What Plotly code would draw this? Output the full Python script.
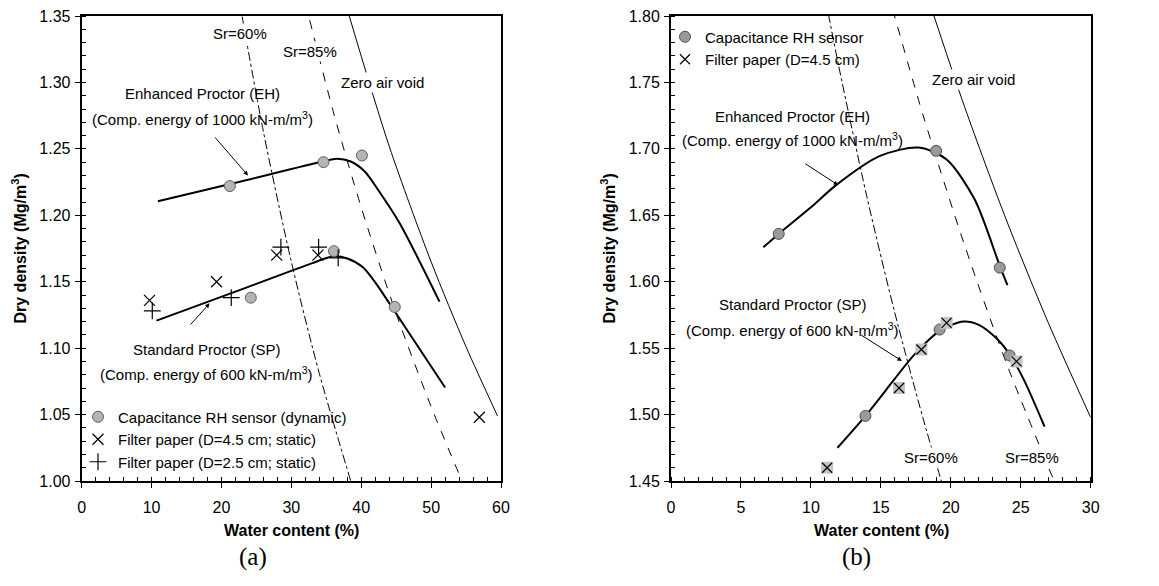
import plotly.graph_objects as go

# ---------------- Panel (a) ----------------
# measured points
a_cap_w = [21.2, 34.6, 40.1, 24.2, 36.1, 44.8]
a_cap_rho = [1.222, 1.240, 1.245, 1.138, 1.173, 1.131]
a_fp45_w = [9.7, 19.3, 27.9, 33.8, 56.9]
a_fp45_rho = [1.136, 1.150, 1.170, 1.170, 1.048]
a_fp25_w = [10.1, 21.4, 28.5, 33.9, 36.7]
a_fp25_rho = [1.128, 1.138, 1.176, 1.176, 1.168]

# compaction curves
a_eh_w = [10.9, 22.0, 34.5, 36.5, 38.5, 40.5, 42.5, 45.5, 51.2]
a_eh_rho = [1.2105, 1.2245, 1.2405, 1.2425, 1.2405, 1.2330, 1.2185, 1.1940, 1.1350]
a_sp_w = [10.7, 22.0, 33.0, 35.9, 38.0, 40.2, 42.0, 44.5, 52.0]
a_sp_rho = [1.1207, 1.1425, 1.1640, 1.1690, 1.1675, 1.1610, 1.1495, 1.1300, 1.0704]

# saturation lines
a_sr60_w = [22.5, 26.0, 30.0, 34.0, 38.5]
a_sr60_rho = [1.363, 1.263, 1.165, 1.081, 1.000]
a_sr85_w = [32.0, 36.0, 40.0, 45.0, 50.0, 54.5]
a_sr85_rho = [1.360, 1.278, 1.206, 1.126, 1.056, 0.999]
a_zav_w = [38.0, 44.0, 50.0, 55.0, 59.5]
a_zav_rho = [1.355, 1.252, 1.165, 1.101, 1.049]

# ---------------- Panel (b) ----------------
b_cap_w = [7.7, 18.95, 23.5, 13.9, 19.2, 24.2]
b_cap_rho = [1.636, 1.6985, 1.6106, 1.499, 1.564, 1.5445]
b_fp_w = [11.16, 16.3, 17.9, 19.7, 24.7]
b_fp_rho = [1.460, 1.520, 1.549, 1.569, 1.540]

b_eh_w = [6.6, 7.7, 10.0, 11.8, 14.9, 17.7, 19.7, 21.7, 23.5, 24.05]
b_eh_rho = [1.626, 1.636, 1.656, 1.6727, 1.6945, 1.701, 1.692, 1.662, 1.612, 1.5975]
b_sp_w = [11.9, 13.9, 16.0, 17.3, 19.2, 20.9, 22.0, 23.3, 24.2, 25.2, 26.7]
b_sp_rho = [1.475, 1.499, 1.527, 1.544, 1.563, 1.570, 1.5675, 1.557, 1.5455, 1.5267, 1.491]

b_sr60_w = [11.0, 12.0, 14.0, 16.0, 18.0, 19.5]
b_sr60_rho = [1.815, 1.7617, 1.664, 1.5765, 1.4978, 1.4437]
b_sr85_w = [15.5, 18.0, 21.0, 24.0, 27.5]
b_sr85_rho = [1.818, 1.726, 1.627, 1.538, 1.447]
b_zav_w = [18.5, 21.0, 24.0, 27.0, 30.0]
b_zav_rho = [1.8095, 1.7312, 1.6457, 1.5683, 1.4978]

FONT = "Liberation Sans, Arial, sans-serif"
FW, FH = 1159, 586


def fx(p):
    """pixel from the left edge -> paper x"""
    return p / FW


def fy(p):
    """pixel from the top edge -> paper y"""
    return 1 - p / FH


fig = go.Figure()


def line(x, y, xa, ya, dash="solid", width=1.0):
    fig.add_trace(go.Scatter(x=x, y=y, mode="lines", xaxis=xa, yaxis=ya,
                             line=dict(color="black", width=width, dash=dash,
                                       shape="spline", smoothing=0.8),
                             showlegend=False, hoverinfo="skip"))


# panel (a) lines
line(a_sr60_w, a_sr60_rho, "x", "y", dash="dashdot")
line(a_sr85_w, a_sr85_rho, "x", "y", dash="dash")
line(a_zav_w, a_zav_rho, "x", "y")
line(a_eh_w, a_eh_rho, "x", "y", width=2)
line(a_sp_w, a_sp_rho, "x", "y", width=2)

# panel (b) lines
line(b_sr60_w, b_sr60_rho, "x2", "y2", dash="dashdot")
line(b_sr85_w, b_sr85_rho, "x2", "y2", dash="dash")
line(b_zav_w, b_zav_rho, "x2", "y2")
line(b_eh_w, b_eh_rho, "x2", "y2", width=2)
line(b_sp_w, b_sp_rho, "x2", "y2", width=2)

# panel (a) markers
fig.add_trace(go.Scatter(x=a_cap_w, y=a_cap_rho, mode="markers", xaxis="x", yaxis="y",
                         name="Capacitance RH sensor (dynamic)", legend="legend",
                         marker=dict(symbol="circle", size=11, color="#b4b4b4",
                                     line=dict(color="#606060", width=1))))
fig.add_trace(go.Scatter(x=a_fp45_w, y=a_fp45_rho, mode="markers", xaxis="x", yaxis="y",
                         name="Filter paper (D=4.5 cm; static)", legend="legend",
                         marker=dict(symbol="x-thin", size=11,
                                     line=dict(color="black", width=1.2))))
fig.add_trace(go.Scatter(x=a_fp25_w, y=a_fp25_rho, mode="markers", xaxis="x", yaxis="y",
                         name="Filter paper (D=2.5 cm; static)", legend="legend",
                         marker=dict(symbol="cross-thin", size=12,
                                     line=dict(color="black", width=1.2))))

# panel (b) markers
fig.add_trace(go.Scatter(x=b_cap_w, y=b_cap_rho, mode="markers", xaxis="x2", yaxis="y2",
                         name="Capacitance RH sensor", legend="legend2",
                         marker=dict(symbol="circle", size=11, color="#9a9a9a",
                                     line=dict(color="#505050", width=1))))
fig.add_trace(go.Scatter(x=b_fp_w, y=b_fp_rho, mode="markers", xaxis="x2", yaxis="y2",
                         name="Filter paper (D=4.5 cm)", legend="legend2",
                         legendgroup="fp", showlegend=False,
                         marker=dict(symbol="square", size=12, color="#c4c4c4",
                                     line=dict(width=0))))
fig.add_trace(go.Scatter(x=b_fp_w, y=b_fp_rho, mode="markers", xaxis="x2", yaxis="y2",
                         name="Filter paper (D=4.5 cm)", legend="legend2",
                         legendgroup="fp",
                         marker=dict(symbol="x-thin", size=10,
                                     line=dict(color="black", width=1.2))))

# axes
xdom_a = [fx(81.7), fx(501.0)]
xdom_b = [fx(671.0), fx(1090.7)]
ydom = [fy(481.0), fy(16.0)]

tickfont = dict(family=FONT, size=16, color="black")
common = dict(showline=True, linewidth=2, linecolor="black", mirror=True,
              showgrid=False, zeroline=False, ticks="outside", ticklen=5,
              tickwidth=1, tickcolor="black", tickfont=tickfont, automargin=False)
xcommon = dict(ticklabelstandoff=6, **common)
ycommon = dict(ticklabelstandoff=1, **common)
minor_style = dict(ticks="inside", ticklen=4, tickcolor="black", tickwidth=1)

# overlay axes carrying the inner half of the major ticks
inner = dict(showline=False, showgrid=False, zeroline=False, ticks="inside", ticklen=5,
             tickwidth=1, tickcolor="black", showticklabels=False, automargin=False)

fig.update_layout(
    xaxis=dict(domain=xdom_a, range=[0, 60], dtick=10, anchor="y",
               minor=dict(dtick=2, **minor_style), **xcommon),
    yaxis=dict(domain=ydom, range=[1.00, 1.35], dtick=0.05, tickformat=".2f", anchor="x",
               minor=dict(dtick=0.01, **minor_style), **ycommon),
    xaxis2=dict(domain=xdom_b, range=[0, 30], dtick=5, anchor="y2",
                minor=dict(dtick=1, **minor_style), **xcommon),
    yaxis2=dict(domain=ydom, range=[1.45, 1.80], dtick=0.05, tickformat=".2f", anchor="x2",
                minor=dict(dtick=0.01, **minor_style), **ycommon),
    xaxis3=dict(domain=xdom_a, range=[0, 60], dtick=10, anchor="y", overlaying="x", **inner),
    yaxis3=dict(domain=ydom, range=[1.00, 1.35], dtick=0.05, anchor="x", overlaying="y", **inner),
    xaxis4=dict(domain=xdom_b, range=[0, 30], dtick=5, anchor="y2", overlaying="x2", **inner),
    yaxis4=dict(domain=ydom, range=[1.45, 1.80], dtick=0.05, anchor="x2", overlaying="y2", **inner),
)

# legends
legfont = dict(family=FONT, size=15, color="black")
fig.update_layout(
    legend=dict(x=fx(78), y=fy(400.5), xanchor="left", yanchor="top",
                bgcolor="rgba(0,0,0,0)", font=legfont, tracegroupgap=0),
    legend2=dict(x=fx(665), y=fy(20.5), xanchor="left", yanchor="top",
                 bgcolor="rgba(0,0,0,0)", font=legfont, tracegroupgap=0),
)

ann = []


def text(x, y, s, xref, yref, size=15, bg=None):
    d = dict(x=x, y=y, xref=xref, yref=yref, text=s, showarrow=False,
             xanchor="center", yanchor="middle",
             font=dict(family=FONT, size=size, color="black"))
    if bg:
        d["bgcolor"] = bg
        d["borderpad"] = 1
    ann.append(d)


# panel (a) labels
text(22.7, 1.337, "Sr=60%", "x", "y", bg="white")
text(32.6, 1.323, "Sr=85%", "x", "y", bg="white")
text(43.1, 1.300, "Zero air void", "x", "y", bg="white")
text(17.3, 1.292, "Enhanced Proctor (EH)", "x", "y")
text(17.3, 1.2728, "(Comp. energy of 1000 kN-m/m<sup>3</sup>)", "x", "y")
text(17.9, 1.0993, "Standard Proctor (SP)", "x", "y")
text(17.9, 1.081, "(Comp. energy of 600 kN-m/m<sup>3</sup>)", "x", "y")

# panel (b) labels
text(21.6, 1.752, "Zero air void", "x2", "y2", bg="white")
text(8.7, 1.7245, "Enhanced Proctor (EH)", "x2", "y2")
text(8.7, 1.707, "(Comp. energy of 1000 kN-m/m<sup>3</sup>)", "x2", "y2")
text(8.7, 1.583, "Standard Proctor (SP)", "x2", "y2")
text(8.7, 1.5642, "(Comp. energy of 600 kN-m/m<sup>3</sup>)", "x2", "y2")
text(18.6, 1.468, "Sr=60%", "x2", "y2", bg="white")
text(25.8, 1.468, "Sr=85%", "x2", "y2", bg="white")

# pointer arrows: (head x, head y, tail x, tail y)
arrows_a = [(23.8, 1.230, 18.9, 1.2597), (18.3, 1.1337, 15.4, 1.1167)]
arrows_b = [(11.95, 1.6727, 9.5, 1.6895), (16.5, 1.5404, 13.5, 1.5605)]
for arr, xr, yr in ((arrows_a, "x", "y"), (arrows_b, "x2", "y2")):
    for hx, hy, tx, ty in arr:
        ann.append(dict(x=hx, y=hy, ax=tx, ay=ty, xref=xr, yref=yr, axref=xr, ayref=yr,
                        text="", showarrow=True, arrowhead=2, arrowsize=0.9,
                        arrowwidth=1, arrowcolor="black"))

# axis titles and panel captions
for xc in (fx(291), fx(881)):
    ann.append(dict(x=xc, y=fy(530), xref="paper", yref="paper", showarrow=False,
                    xanchor="center", yanchor="middle",
                    text="<b>Water content (%)</b>",
                    font=dict(family=FONT, size=16, color="black")))
for xc in (fx(20), fx(609)):
    ann.append(dict(x=xc, y=fy(248.5), xref="paper", yref="paper", showarrow=False,
                    xanchor="center", yanchor="middle",
                    textangle=-90, text="<b>Dry density (Mg/m<sup>3</sup>)</b>",
                    font=dict(family=FONT, size=16, color="black")))
for xc, cap in ((fx(253), "(a)"), (fx(856), "(b)")):
    ann.append(dict(x=xc, y=fy(557), xref="paper", yref="paper", showarrow=False,
                    xanchor="center", yanchor="middle",
                    text=cap,
                    font=dict(family="Liberation Serif, Times New Roman, serif",
                              size=25, color="black")))

fig.update_layout(annotations=ann, width=FW, height=FH,
                  margin=dict(l=0, r=0, t=0, b=0, autoexpand=False),
                  paper_bgcolor="white", plot_bgcolor="white")

# the figure fills the whole window: drop the page's default body margin
fig.write_html("out.html",
               post_script="document.body.style.margin='0';"
                           "document.documentElement.style.overflow='hidden';")
